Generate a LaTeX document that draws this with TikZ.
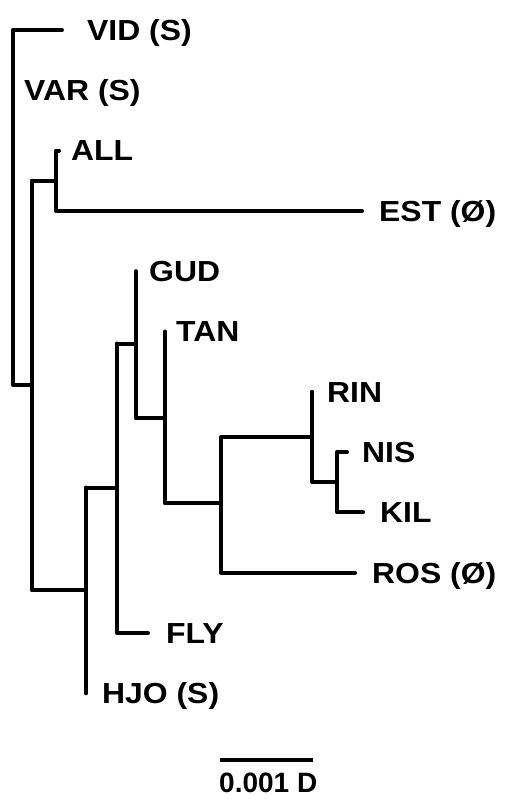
\documentclass[tikz,border=0pt]{standalone}
\usepackage{fontspec}
\setmainfont{Liberation Sans}
\newfontfamily\labfont{Liberation Sans}[FakeStretch=1.1]
\begin{document}
\begin{tikzpicture}[x=1pt,y=-1pt,
  br/.style={line width=4pt, line cap=round, line join=round},
  lab/.style={anchor=base west, inner sep=0pt, font=\labfont\fontsize{29}{29}\selectfont\bfseries},
  sblab/.style={anchor=base west, inner sep=0pt, font=\fontsize{28}{28}\selectfont\bfseries}]
\useasboundingbox (0,0) rectangle (507,799);
% leaf heights
\def\yVID{30}\def\yVAR{90.3}\def\yALL{150.6}\def\yEST{210.9}
\def\yGUD{271.2}\def\yTAN{331.5}\def\yRIN{391.8}\def\yNIS{452.1}
\def\yKIL{512.4}\def\yROS{572.7}\def\yFLY{633}\def\yHJO{693.3}
% coordinates of internal nodes
\coordinate (rt) at (13,\yVID);
\coordinate (rb) at (13,385);
\coordinate (Am) at (32,385);
\coordinate (vidE) at (62,\yVID);
\coordinate (At) at (32,180.75);
\coordinate (Ab) at (32,590);
\coordinate (AEt) at (56,\yALL);
\coordinate (AEm) at (56,180.75);
\coordinate (AEb) at (56,\yEST);
\coordinate (allE) at (59,\yALL);
\coordinate (estE) at (362,\yEST);
\coordinate (Bm) at (86,590);
\coordinate (Bt) at (86,487.5);
\coordinate (Bb) at (86,\yHJO);
\coordinate (Ct) at (117,343.5);
\coordinate (Cm) at (117,487.5);
\coordinate (Cb) at (117,\yFLY);
\coordinate (flyE) at (148,\yFLY);
\coordinate (Dt) at (136,\yGUD);
\coordinate (Dm) at (136,343.5);
\coordinate (Db) at (136,418);
\coordinate (Et) at (165,\yTAN);
\coordinate (Em) at (165,418);
\coordinate (Eb) at (165,503);
\coordinate (Ft) at (221,437);
\coordinate (Fm) at (221,503);
\coordinate (Fb) at (221,\yROS);
\coordinate (rosE) at (355,\yROS);
\coordinate (Gt) at (312,\yRIN);
\coordinate (Gm) at (312,437);
\coordinate (Gb) at (312,482);
\coordinate (Ht) at (337,\yNIS);
\coordinate (Hm) at (337,482);
\coordinate (Hb) at (337,\yKIL);
\coordinate (nisE) at (347,\yNIS);
\coordinate (kilE) at (363,\yKIL);
% branches
\draw[br] (vidE) -- (rt) -- (rb) -- (Am);
\draw[br] (At) -- (Ab);
\draw[br] (At) -- (AEm);
\draw[br] (allE) -- (AEt) -- (AEb) -- (estE);
\draw[br] (Ab) -- (Bm);
\draw[br] (Bt) -- (Bb);
\draw[br] (Bt) -- (Cm);
\draw[br] (Ct) -- (Cb) -- (flyE);
\draw[br] (Ct) -- (Dm);
\draw[br] (Dt) -- (Db);
\draw[br] (Db) -- (Em);
\draw[br] (Et) -- (Eb);
\draw[br] (Eb) -- (Fm);
\draw[br] (Gm) -- (Ft) -- (Fb) -- (rosE);
\draw[br] (Gt) -- (Gb) -- (Hm);
\draw[br] (nisE) -- (Ht) -- (Hb) -- (kilE);
% labels
\node[lab] (lVID) at (87,\yVID+10.4) {VID (S)};
\node[lab] (lVAR) at (24,\yVAR+10.4) {VAR (S)};
\node[lab] (lALL) at (71,\yALL+10.4) {ALL};
\node[lab] (lEST) at (379,\yEST+10.4) {EST (Ø)};
\node[lab] (lGUD) at (149,\yGUD+10.4) {GUD};
\node[lab] (lTAN) at (176,\yTAN+10.4) {TAN};
\node[lab] (lRIN) at (327,\yRIN+10.4) {RIN};
\node[lab] (lNIS) at (362,\yNIS+10.4) {NIS};
\node[lab] (lKIL) at (380,\yKIL+10.4) {KIL};
\node[lab] (lROS) at (372,\yROS+10.4) {ROS (Ø)};
\node[lab] (lFLY) at (166,\yFLY+10.4) {FLY};
\node[lab] (lHJO) at (102,\yHJO+10.4) {HJO (S)};
% scale bar
\coordinate (sbL) at (220,760);
\coordinate (sbR) at (313,760);
\draw[line width=4.5pt] (sbL) -- (sbR);
\node[sblab] (lsb) at (219,792) {0.001 D};
\end{tikzpicture}
\end{document}
